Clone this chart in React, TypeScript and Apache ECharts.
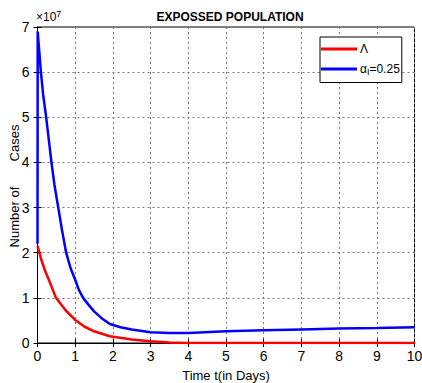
import React, { useEffect, useRef } from "react";
import * as echarts from "echarts";

// values in units of 10^7
const lambdaT = [0, 0.1, 0.2, 0.3, 0.49, 0.75, 1, 1.25, 1.5, 1.92, 2.5, 3, 3.5, 4, 5, 6, 7, 8, 9, 10];
const lambdaV = [2.15, 1.85, 1.6, 1.4, 1.0, 0.72, 0.51, 0.36, 0.26, 0.15, 0.08, 0.04, 0.01, 0, 0, 0, 0, 0, 0, 0];
const alphaT = [0, 0.005, 0.09, 0.15, 0.23, 0.3, 0.37, 0.45, 0.55, 0.65, 0.76, 0.88, 1.0, 1.1, 1.21, 1.35, 1.5, 1.7, 1.92, 2.2, 2.5, 3, 3.5, 4, 5, 6, 7, 8, 9, 10];
const alphaV = [2.2, 6.9, 6.0, 5.5, 5.0, 4.5, 4.0, 3.5, 3.0, 2.5, 2.0, 1.65, 1.4, 1.17, 1.0, 0.85, 0.7, 0.55, 0.42, 0.35, 0.3, 0.24, 0.22, 0.22, 0.26, 0.28, 0.3, 0.32, 0.33, 0.35];

export default function App() {
  const ref = useRef<HTMLDivElement>(null);
  useEffect(() => {
    const chart = echarts.init(ref.current!, null, { renderer: "svg" });
    const font = "Liberation Sans, Arial, sans-serif";
    const gridLine = { show: true, lineStyle: { color: "#777", type: [2, 3] as any, width: 1 } };
    chart.setOption({
      animation: false,
      backgroundColor: "#fff",
      title: {
        text: "EXPOSSED POPULATION",
        left: 225,
        textAlign: "center",
        top: 6,
        textStyle: { fontFamily: font, fontSize: 12, fontWeight: "bold", color: "#000" },
      },
      legend: {
        left: 320,
        top: 37,
        orient: "vertical",
        itemWidth: 36,
        itemHeight: 3,
        itemGap: 8,
        icon: "rect",
        padding: [6, 2, 6, 1],
        backgroundColor: "#fff",
        borderColor: "#000",
        borderWidth: 1,
        borderRadius: 0,
        textStyle: {
          fontFamily: font,
          fontSize: 12,
          color: "#000",
          padding: [0, 0, 0, -2],
          rich: {
            a: { fontFamily: font, fontSize: 12, color: "#000" },
            s: { fontFamily: font, fontSize: 9, color: "#000", verticalAlign: "bottom", padding: [6, 0, 0, 0] },
          },
        },
        formatter: (name: string) => (name === "alpha" ? "{a|α}{s|I}{a|=0.25}" : "{a|Λ}"),
        data: ["lambda", "alpha"],
      },
      grid: {
        left: 37.5,
        right: 7.5,
        top: 27,
        bottom: 40,
        containLabel: false,
        outerBoundsMode: "none",
        show: true,
        borderColor: "#000",
        borderWidth: 1,
        backgroundColor: "#fff",
      },
      xAxis: [
        {
          type: "value",
          min: 0,
          max: 10,
          interval: 1,
          name: "Time t(in Days)",
          nameLocation: "middle",
          nameGap: 26,
          nameTextStyle: { fontFamily: font, fontSize: 13, color: "#000" },
          axisLine: { show: true, lineStyle: { color: "#000" } },
          axisTick: { show: true, inside: true, length: 4, lineStyle: { color: "#000" } },
          axisLabel: { fontFamily: font, fontSize: 14, color: "#000", margin: 6 },
          splitLine: gridLine,
        },
        {
          type: "value",
          position: "top",
          min: 0,
          max: 10,
          interval: 1,
          axisLine: { show: true, lineStyle: { color: "#000" } },
          axisTick: { show: true, inside: true, length: 4, lineStyle: { color: "#000" } },
          axisLabel: { show: false },
          splitLine: { show: false },
        },
      ],
      yAxis: [
        {
          type: "value",
          min: 0,
          max: 7,
          interval: 1,
          axisLine: { show: true, lineStyle: { color: "#000" } },
          axisTick: { show: true, inside: true, length: 4, lineStyle: { color: "#000" } },
          axisLabel: { fontFamily: font, fontSize: 14, color: "#000", margin: 8 },
          splitLine: gridLine,
        },
        {
          type: "value",
          position: "right",
          min: 0,
          max: 7,
          interval: 1,
          axisLine: { show: true, lineStyle: { color: "#000" } },
          axisTick: { show: true, inside: true, length: 4, lineStyle: { color: "#000" } },
          axisLabel: { show: false },
          splitLine: { show: false },
        },
      ],
      graphic: [
        {
          type: "text",
          left: 36,
          top: 9,
          style: {
            text: "{a|×10}{b|7}",
            rich: {
              a: { fontFamily: font, fontSize: 12, fill: "#000" },
              b: { fontFamily: font, fontSize: 9, fill: "#000", verticalAlign: "top", padding: [0, 0, 6, 0] },
            },
          },
        },
        {
          type: "text",
          x: 14,
          y: 186,
          rotation: Math.PI / 2,
          style: {
            text: "Number of       Cases",
            fontFamily: font,
            fontSize: 13,
            fill: "#000",
            align: "center",
            verticalAlign: "middle",
          },
        },
      ],
      series: [
        {
          name: "lambda",
          type: "line",
          showSymbol: false,
          lineStyle: { color: "#ff0000", width: 2.5 },
          itemStyle: { color: "#ff0000" },
          data: lambdaT.map((t, i) => [t, lambdaV[i]]),
          z: 3,
        },
        {
          name: "alpha",
          type: "line",
          showSymbol: false,
          lineStyle: { color: "#0000ff", width: 2.5 },
          itemStyle: { color: "#0000ff" },
          data: alphaT.map((t, i) => [t, alphaV[i]]),
          z: 2,
        },
      ],
    });
    return () => chart.dispose();
  }, []);
  return <div ref={ref} style={{ width: 422, height: 383, position: "absolute", left: 0, top: 0 }} />;
}
